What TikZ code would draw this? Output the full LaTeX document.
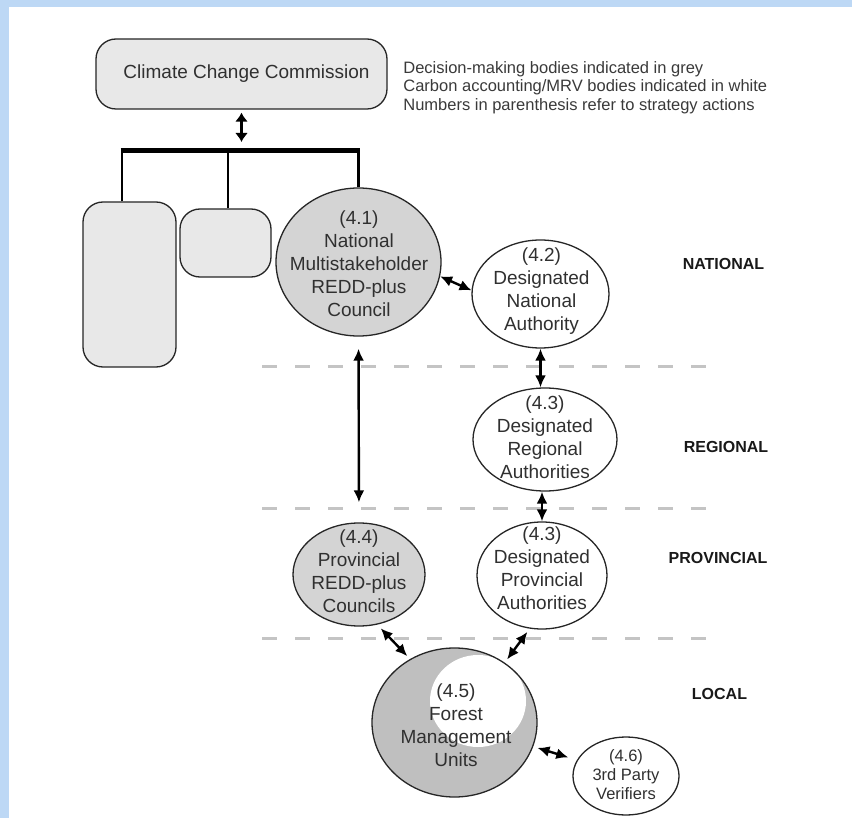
\documentclass[tikz,border=0pt]{standalone}
\usepackage{fontspec}
\setmainfont{Liberation Sans}
\usetikzlibrary{shapes.geometric,arrows.meta}
\definecolor{bluebg}{HTML}{BDD8F5}
\definecolor{boxgray}{HTML}{E8E8E8}
\definecolor{councilgray}{HTML}{D4D4D4}
\definecolor{fmugray}{HTML}{BFBFBF}
\definecolor{dashgray}{HTML}{C4C4C4}
\definecolor{txtcol}{HTML}{303030}
\definecolor{legcol}{HTML}{3A3A3A}
\begin{document}
\begin{tikzpicture}[x=0.5pt,y=-0.5pt,
  box/.style={draw=black!85, line width=0.65pt, fill=boxgray, rounded corners=10pt, inner sep=0pt},
  body/.style={shape=ellipse, draw=black!85, line width=0.65pt, inner sep=0pt},
  dm/.style={body, fill=councilgray},
  mrv/.style={body, fill=white},
  lbl/.style={font=\fontsize{9.5}{11.5}\selectfont, text=txtcol, align=center, inner sep=0pt},
  smalllbl/.style={font=\fontsize{8.25}{9.5}\selectfont, text=txtcol, align=center, inner sep=0pt},
  level/.style={font=\bfseries\fontsize{8}{9.6}\selectfont, text=black!90, inner sep=0pt},
  legend/.style={font=\fontsize{8.25}{9.25}\selectfont, text=legcol, align=left, inner sep=0pt},
  link/.style={{Latex[length=6pt,width=5.5pt]}-{Latex[length=6pt,width=5.5pt]}, line width=1.2pt},
  biglink/.style={{Latex[length=4.5pt,width=6.5pt]}-{Latex[length=4.5pt,width=6.5pt]}, line width=1.4pt},
  stem/.style={line width=1.3pt},
  bar/.style={line width=2.5pt},
  divider/.style={dashgray, line width=1.5pt, dash pattern=on 7.5pt off 9pt}
]
% background and frame
\fill[bluebg] (0,0) rectangle (852,818);
\fill[white] (9,7) rectangle (852,818);
\useasboundingbox (0,0) rectangle (852,818);

% level dividers
\coordinate (d1a) at (262,367); \coordinate (d1b) at (706,367);
\coordinate (d2a) at (262,508); \coordinate (d2b) at (706,508);
\coordinate (d3a) at (262,638); \coordinate (d3b) at (706,638);
\draw[divider] (d1a) -- (d1b);
\draw[divider] (d2a) -- (d2b);
\draw[divider] (d3a) -- (d3b);

% boxes
\node[box, minimum width=145.5pt, minimum height=35pt, font=\fontsize{9.5}{11.5}\selectfont, text=txtcol] (ccc) at (241.5,74) {\hspace{5pt}Climate Change Commission};
\node[box, minimum width=46.5pt, minimum height=82.5pt] (tall) at (129.5,284.5) {};
\node[box, minimum width=45.5pt, minimum height=34pt] (small) at (225.5,243) {};

% bodies
\node[dm, minimum width=82.5pt, minimum height=74pt] (nmrc) at (358.5,262) {};
\node[mrv, minimum width=68.5pt, minimum height=54pt] (dna) at (540.5,294) {};
\node[mrv, minimum width=72pt, minimum height=51.5pt] (dra) at (545,439.5) {};
\node[dm, minimum width=66pt, minimum height=51.5pt] (prc) at (359,574.5) {};
\node[mrv, minimum width=65pt, minimum height=53.5pt] (dpa) at (542,575.5) {};
\node[dm, fill=fmugray, minimum width=82.5pt, minimum height=74.5pt,
  path picture={\fill[white] ([shift={(23.5,-21.5)}]path picture bounding box.center) ellipse [x radius=24pt, y radius=23pt];}] (fmu) at (454.5,722.5) {};
\node[mrv, minimum width=53pt, minimum height=39pt] (tpv) at (626,776) {};

% texts of bodies
\node[lbl] (nmrc-t) at (359,264) {(4.1)\\National\\Multistakeholder\\REDD-plus\\Council};
\node[lbl] (dna-t) at (541.5,291) {(4.2)\\Designated\\National\\Authority};
\node[lbl] (dra-t) at (545,437) {(4.3)\\Designated\\Regional\\Authorities};
\node[lbl] (prc-t) at (359,571) {(4.4)\\Provincial\\REDD-plus\\Councils};
\node[lbl] (dpa-t) at (542,568) {(4.3)\\Designated\\Provincial\\Authorities};
\node[lbl] (fmu-t) at (456,725.5) {(4.5)\\Forest\\Management\\Units};
\node[smalllbl] (tpv-t) at (626,775) {(4.6)\\3rd Party\\Verifiers};

% level labels
\node[level] (national) at (723.5,264) {NATIONAL};
\node[level] (regional) at (726,447) {REGIONAL};
\node[level] (provincial) at (718,558) {PROVINCIAL};
\node[level] (local) at (719.5,694) {LOCAL};

% legend
\node[legend, anchor=north west] (legend) at (403,61) {Decision-making bodies indicated in grey\\Carbon accounting/MRV bodies indicated in white\\Numbers in parenthesis refer to strategy actions};

% tree under the commission
\coordinate (barL) at (122,151);
\coordinate (barM) at (228,151);
\coordinate (barR) at (358.5,151);
\coordinate (hub) at (241.5,151);
\draw[stem] (tall.north -| barL) -- (barL);
\draw[stem] (small.north -| barM) -- (barM);
\draw[stem] (nmrc.north) -- (barR);
\draw[bar] ([xshift=-0.65pt]barL) -- ([xshift=0.65pt]barR);
\draw[biglink, shorten <=1.5pt, shorten >=4.5pt] (ccc.south) -- (hub);

% connectors
\draw[link] (nmrc.-10) -- (dna.177);
\draw[link] (dna.south) -- (dna.south |- dra.north);
\draw[link] (dpa.north |- dra.south) -- (dpa.north);
\draw[link, shorten <=6pt, shorten >=10pt] (nmrc.south) -- (prc.north);
\draw[link, shorten <=2.5pt, shorten >=2pt] (prc.-70) -- (fmu.125);
\draw[link, shorten <=2pt, shorten >=2pt] (dpa.-103) -- (fmu.50);
\draw[link, shorten <=2.2pt, shorten >=4.5pt] (fmu.-17) -- (tpv.162);
\end{tikzpicture}
\end{document}
